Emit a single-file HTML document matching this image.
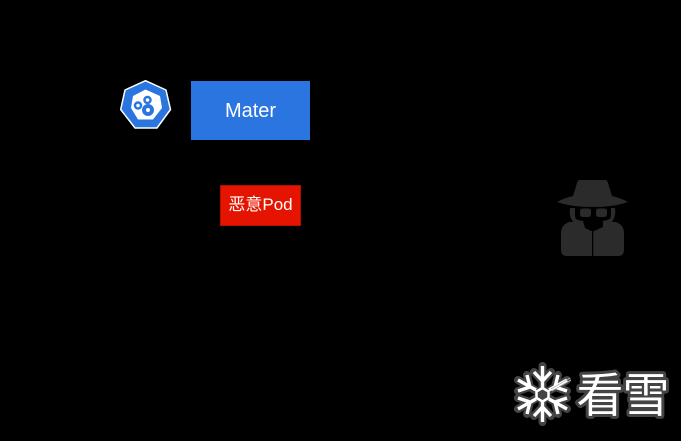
<!DOCTYPE html>
<html><head><meta charset="utf-8"><style>
html,body{margin:0;padding:0;background:#000;width:681px;height:441px;overflow:hidden}
svg{display:block}
text{font-family:"Liberation Sans","Noto Sans CJK SC",sans-serif}
</style></head><body>
<svg width="681" height="441" viewBox="0 0 681 441" xmlns="http://www.w3.org/2000/svg">
<rect width="681" height="441" fill="#000"/>
<!-- Kubernetes icon -->
<polygon points="145.5,80.7 166,90 170.5,109.5 157,128 135,128 120.7,109.5 125,90" fill="#2a75e0" stroke="#fff" stroke-width="1.5" stroke-linejoin="round"/>
<polygon points="145.5,89.500 160,96 162,108 153,119.500 138,119.500 131,108 133,96" fill="#fff"/>
<g fill="none" stroke="#2a75e0">
<circle cx="147.5" cy="100" r="3" stroke-width="2.500"/>
<circle cx="138" cy="105.5" r="3" stroke-width="2.500"/>
<circle cx="148" cy="110" r="4" stroke-width="4"/>
</g>
<!-- Mater -->
<rect x="191" y="81" width="119" height="59" fill="#2a75e0"/>
<text x="250.5" y="117" font-size="20" fill="#fff" text-anchor="middle">Mater</text>
<!-- Pod -->
<rect x="220.5" y="185.5" width="80" height="40" fill="#e51400" stroke="#b20f00"/>
<text x="260.5" y="210" font-size="17" fill="#fff" text-anchor="middle">恶意Pod</text>
<!-- Spy -->
<g fill="#2b2b2b">
<path d="M579,180 H606 Q607,180 608,183 L612,196 Q621,198 628,202 Q614,207 592.500,207 Q571,207 557,202 Q564,198 573,196 L577,183 Q578,180 579,180Z"/>
<path d="M570,208 H615 Q616,216 613,220 L612,222 H616 Q624,225 624,233 V250 Q624,256 618,256 H567 Q561,256 561,250 V233 Q561,225 569,222 H573 L572,220 Q569,216 570,208Z"/>
</g>
<path d="M575,208 H611 V216 Q611,219 607,220 L603,221 V227 L594,231 H591 L585,228 L583,221 L578,220 Q575,219 575,216Z" fill="#000"/>
<rect x="592" y="230" width="1.300" height="26" fill="#000"/>
<g fill="#2b2b2b">
<path d="M580,211 Q580,208.500 583,208.500 H588 Q591,208.500 591,211 V214 Q591,217 588,217 H583 Q580,217 580,214Z"/>
<path d="M596,211 Q596,208.500 599,208.500 H604 Q607,208.500 607,211 V214 Q607,217 604,217 H599 Q596,217 596,214Z"/>
</g>
<!-- Snowflake watermark -->
<g fill="none" stroke="#444" stroke-width="8" stroke-linecap="round" stroke-linejoin="round">
<path d="M542.500,366 V422 M518,380 L567,409 M518,409 L567,380"/>
<path d="M534,372 L542.500,381 L551,372 M534,416 L542.500,407 L551,416 M527,375 L530,387 L518,391 M558,414 L555,402 L567,398 M518,398 L530,402 L527,414 M567,391 L555,387 L558,375"/>
</g>
<g fill="none" stroke="#fff" stroke-width="3.400" stroke-linecap="butt" stroke-linejoin="miter">
<path d="M542.500,366 V388 M542.500,402 V422 M518,380 L536,390 M549,399 L567,409 M518,409 L536,399 M549,390 L567,380"/>
<path d="M534,372 L542.500,381 L551,372 M534,416 L542.500,407 L551,416 M527,375 L530,387 L518,391 M558,414 L555,402 L567,398 M518,398 L530,402 L527,414 M567,391 L555,387 L558,375"/>
<polygon points="542.500,388 548.500,391.500 548.500,398 542.500,401.500 536.500,398 536.500,391.500" stroke-width="2.500" fill="#444"/>
</g>
<path d="M551,389 L570,378 M552,391 L571,380" stroke="#bbb" stroke-width="0.800" fill="none"/>
<g font-size="47" text-anchor="middle">
<text x="600" y="412" fill="#fff" stroke="#444" stroke-width="6" paint-order="stroke" stroke-linejoin="round">看</text>
<text x="646" y="412" fill="#fff" stroke="#444" stroke-width="6" paint-order="stroke" stroke-linejoin="round">雪</text>
</g>
</svg>
</body></html>
